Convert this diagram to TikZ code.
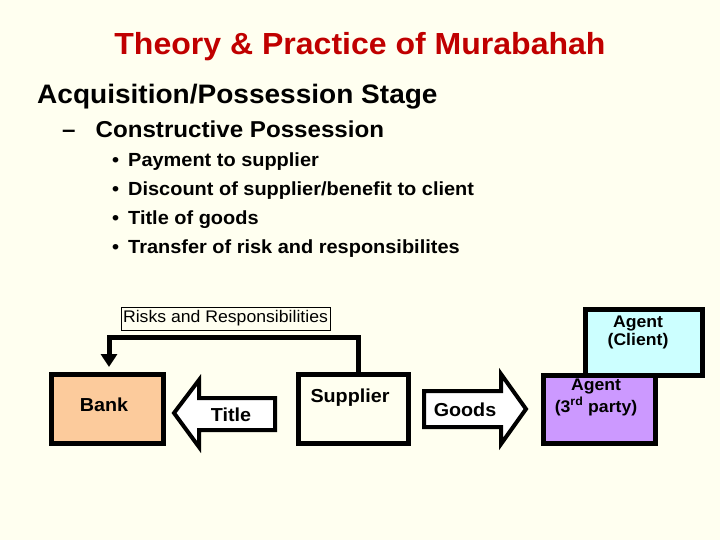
\documentclass[tikz,border=0pt]{standalone}
\usepackage{fontspec}
\setmainfont{Liberation Sans}[FakeStretch=1.05]
\usetikzlibrary{arrows.meta}
\definecolor{bg}{HTML}{FFFFF0}
\definecolor{titlered}{HTML}{C00000}
\definecolor{peach}{HTML}{FCCB9C}
\definecolor{lcyan}{HTML}{CCFFFF}
\definecolor{lpurple}{HTML}{CC99FF}
\newcommand{\fs}[1]{\fontsize{#1}{#1}\selectfont}
\begin{document}
\begin{tikzpicture}[x=1pt,y=-1pt,
  txt/.style={inner sep=0pt, anchor=base west},
  box/.style={draw=black, line width=5pt, inner sep=0pt, anchor=north west},
  blockarrow/.style={draw=black, line width=4pt, fill=white, line join=miter},
  lbl/.style={inner sep=0pt, font=\bfseries\fs{18.8}},
  agentlbl/.style={inner sep=0pt, font=\bfseries\fs{16.8}, align=center},
  conn/.style={line width=5pt, -{Triangle[width=16pt,length=13pt]}}]
\fill[bg] (0,0) rectangle (720,540);
\useasboundingbox (0,0) rectangle (720,540);

\node[inner sep=0pt, anchor=base, text=titlered, font=\bfseries\fs{30.5}] (title) at (360,55) {Theory \& Practice of Murabahah};
\node[txt, font=\bfseries\fs{26.7}] (stage) at (37,104) {Acquisition/Possession Stage};
\node[txt, font=\bfseries\fs{23}] (cp) at (62,138) {\textendash\hspace{20pt}Constructive Possession};
\foreach \y/\t [count=\i] in {167/{Payment to supplier}, 196/{Discount of supplier/benefit to client}, 225/{Title of goods}, 254/{Transfer of risk and responsibilites}}{
  \node[txt, font=\bfseries\fs{19}] (b\i) at (112,\y) {\textbullet};
  \node[txt, font=\bfseries\fs{19}] (t\i) at (128,\y) {\t};
}

% risks box
\node[draw=black, line width=0.8pt, minimum width=209pt, minimum height=23pt, inner sep=0pt, font=\fs{16.8}] (risks) at (225.5,318.5) {Risks and Responsibilities};

% boxes
\node[box, fill=peach, minimum width=112pt, minimum height=69pt] (bank) at (48.5,371.5) {};
\node[lbl] (banklbl) at (104,405) {Bank};
\node[box, fill=bg, minimum width=110pt, minimum height=69pt] (supplier) at (295.5,371.5) {};
\node[lbl] (supplbl) at (350,398) {Supplier};
\node[box, fill=lcyan, minimum width=117pt, minimum height=66pt] (client) at (582.5,306.5) {};
\node[agentlbl] (clientlbl) at (638,332.5) {Agent\\[2pt](Client)};
\node[box, fill=lpurple, minimum width=112pt, minimum height=68pt] (third) at (540.5,372.5) {};
\node[agentlbl] (thirdlbl) at (596,397.5) {Agent\\[2pt](3\textsuperscript{rd} party)};

% connector
\coordinate (c1) at ([xshift=5pt]supplier.north);
\draw[conn] (c1) -- (c1 |- 0,337) -- (109,337) -- (109,367);

% Title arrow (left)
\draw[blockarrow] (174,413) -- (199,380) -- (199,398) -- (275,398) -- (275,430) -- (199,430) -- (199,447) -- cycle;
\node[lbl] (titlelbl) at (231,415) {Title};
% Goods arrow (right)
\draw[blockarrow] (526,409) -- (501,374) -- (501,391) -- (424,391) -- (424,427) -- (501,427) -- (501,444) -- cycle;
\node[lbl] (goodslbl) at (465,410) {Goods};
\end{tikzpicture}
\end{document}
